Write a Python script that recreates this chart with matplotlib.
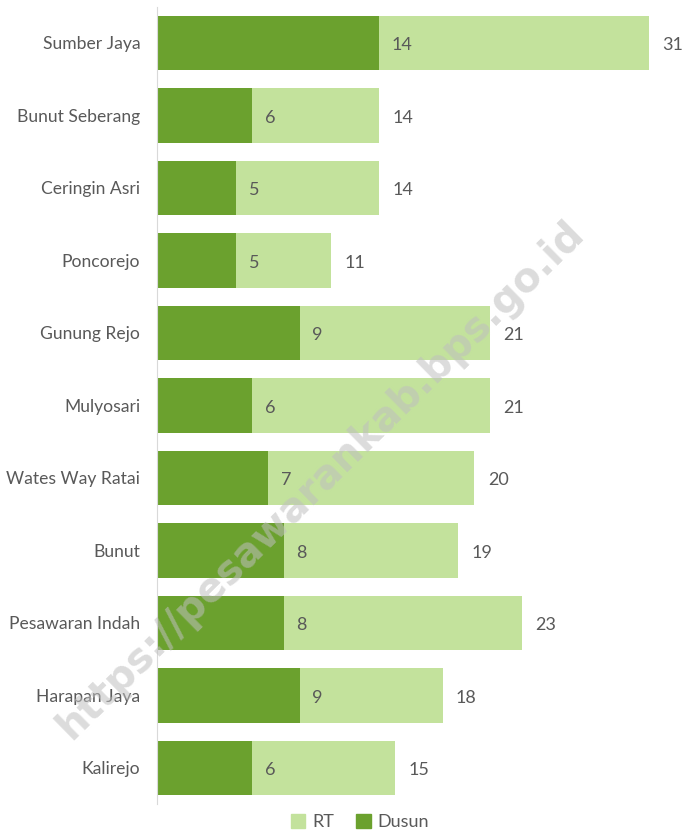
import matplotlib.pyplot as plt
from matplotlib.patches import Patch

desa = ["Sumber Jaya", "Bunut Seberang", "Ceringin Asri", "Poncorejo", "Gunung Rejo",
        "Mulyosari", "Wates Way Ratai", "Bunut", "Pesawaran Indah", "Harapan Jaya", "Kalirejo"]
rt = [31, 14, 14, 11, 21, 21, 20, 19, 23, 18, 15]
dusun = [14, 6, 5, 5, 9, 6, 7, 8, 8, 9, 6]

c_rt = "#C3E29C"
c_dusun = "#6BA12E"
c_text = "#595959"

plt.rcParams['font.family'] = ['Lato', 'DejaVu Sans']

fig = plt.figure(figsize=(6.86, 8.35), dpi=100)
ax = fig.add_axes([0.2289, 0.037, 0.7711, 0.955])

y = list(range(len(desa)))
ax.barh(y, rt, height=0.75, color=c_rt)
ax.barh(y, dusun, height=0.75, color=c_dusun)

for i in y:
    ax.text(dusun[i] + 0.8, i + 0.03, str(dusun[i]), ha="left", va="center", fontsize=13, color=c_text)
    ax.text(rt[i] + 0.85, i + 0.03, str(rt[i]), ha="left", va="center", fontsize=13, color=c_text)

ax.set_yticks(y)
ax.set_yticklabels(desa, fontsize=12.6, color=c_text)
ax.set_ylim(len(desa) - 0.5, -0.5)
ax.set_xlim(0, 33.35)
ax.set_xticks([])
ax.tick_params(axis="y", length=0, pad=12)
for s in ["top", "right", "bottom"]:
    ax.spines[s].set_visible(False)
ax.spines["left"].set_color("#D9D9D9")

# watermark
fig.text(0.468, 0.425, "https://pesawarankab.bps.go.id", rotation=44.5, fontsize=29,
         fontweight="bold", color="#BFBFBF", alpha=0.55, ha="center", va="center",
         family=["DejaVu Sans"])

handles = [Patch(color=c_rt, label="RT"), Patch(color=c_dusun, label="Dusun")]
fig.legend(handles=handles, loc="lower center", bbox_to_anchor=(0.525, -0.014), ncol=2,
           frameon=False, fontsize=13, handlelength=0.8, handleheight=0.8,
           handletextpad=0.4, columnspacing=1.2, labelcolor=c_text)

plt.savefig("out.png", dpi=100)
